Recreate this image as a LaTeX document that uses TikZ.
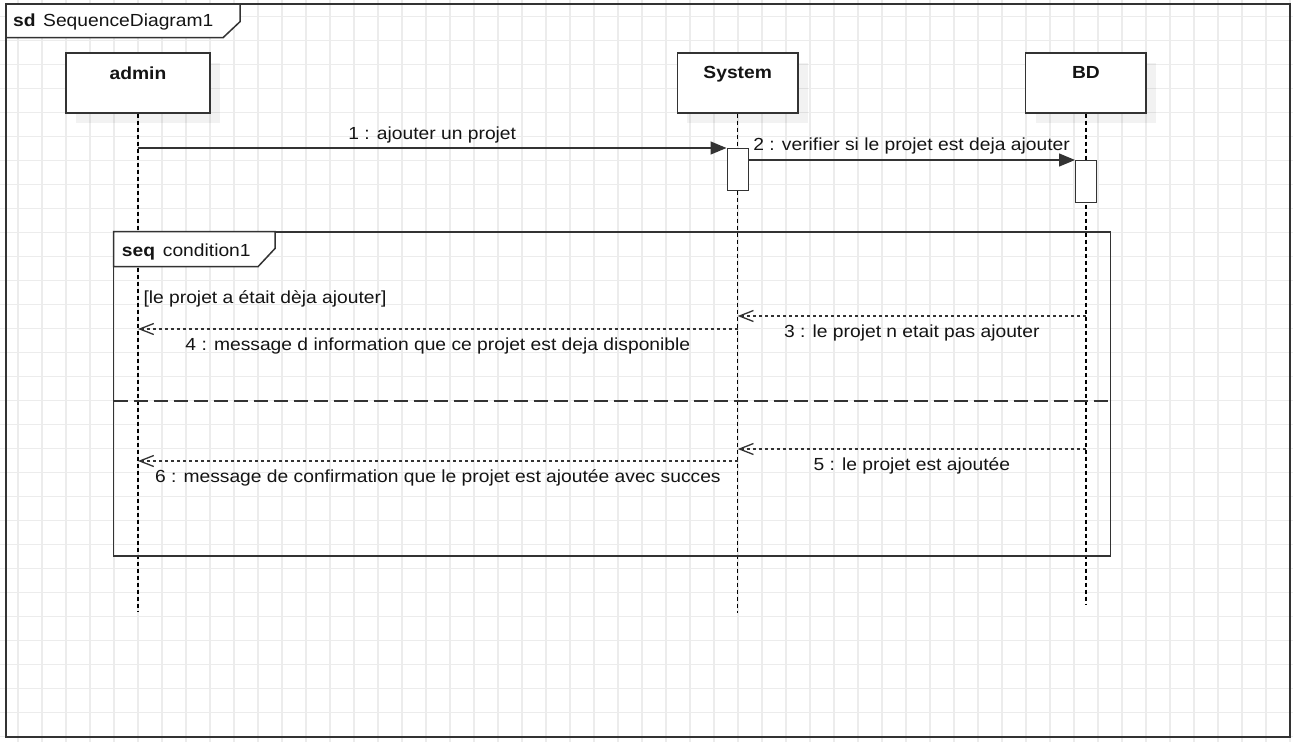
\documentclass[tikz,border=0pt]{standalone}
\usepackage{fontspec}
\setmainfont{Liberation Sans}[FakeStretch=1.10]
\usetikzlibrary{arrows.meta,calc,shadows}
\definecolor{lc}{RGB}{51,51,51}
\definecolor{gridc}{RGB}{236,236,236}
\definecolor{txt}{RGB}{20,20,20}
\tikzset{
  lbl/.style={font=\fontsize{17.5}{20}\selectfont, text=txt, inner sep=0pt},
  bold/.style={font=\fontsize{17.5}{20}\selectfont\bfseries, text=txt, inner sep=0pt},
  actorbox/.style={draw=lc, line width=1.5pt, fill=white, minimum height=60pt, anchor=north, inner sep=0pt,
    drop shadow={shadow xshift=10pt, shadow yshift=-10pt, opacity=0.05, fill=black}},
  actbox/.style={draw=lc, line width=1.4pt, fill=white, minimum width=21pt, minimum height=42pt, anchor=north, inner sep=0pt},
  lifeline/.style={draw=black, line width=1.3pt, dash pattern=on 4pt off 3pt},
  syncmsg/.style={draw=lc, line width=1.3pt, -{Triangle[length=16pt,width=13pt]}},
  retmsg/.style={draw=lc, line width=1.2pt, dash pattern=on 3pt off 3pt, -{Straight Barb[length=14pt,width=11pt,line width=1.3pt]}},
  framebox/.style={draw=lc, line width=2pt},
  tagbox/.style={draw=lc, line width=1.5pt, fill=white},
}
\begin{document}
\begin{tikzpicture}[x=1pt,y=-1pt]
\useasboundingbox (0,0) rectangle (1293,742);
\fill[white] (0,0) rectangle (1293,742);
% grid
\foreach \x in {18,42,...,1290} \draw[gridc, line width=1.3pt] (\x,0) -- (\x,742);
\foreach \y in {16.5,40.5,...,736.5} \draw[gridc, line width=1.3pt] (0,\y) -- (1293,\y);

% outer frame
\draw[framebox] (6,4) rectangle (1290,736.5);
\draw[tagbox] (6,4) -- (240,4) -- (240,21.7) -- (223,37.7) -- (6,37.7) -- cycle;
\node[bold, anchor=base west] (sdk) at (13,26.7) {sd};
\node[lbl, anchor=base west] (sdn) at (43,26.7) {SequenceDiagram1};

% actors
\node[actorbox, minimum width=144pt] (admin) at (138,52) {};
\node[actorbox, minimum width=120.5pt] (system) at (737.7,52) {};
\node[actorbox, minimum width=120.5pt] (bd) at (1085.9,52) {};
\node[bold, anchor=base] (admint) at ($(admin.north)+(0,27)$) {admin};
\node[bold, anchor=base] (systemt) at ($(system.north)+(0,26)$) {System};
\node[bold, anchor=base] (bdt) at ($(bd.north)+(0,26.7)$) {BD};

% lifeline ends
\coordinate (adminE) at (138,612);
\coordinate (systemE) at (737.7,613);
\coordinate (bdE) at (1085.9,605);
\draw[lifeline] (admin.south) -- (adminE);
\draw[lifeline] (system.south) -- (systemE);
\draw[lifeline] (bd.south) -- (bdE);

% activations
\node[actbox] (act1) at (737.7,148) {};
\node[actbox] (act2) at (1086.2,160) {};

% seq fragment
\draw[framebox, line width=1.8pt] (113.5,231.7) rectangle (1110.5,556);
\draw[tagbox] (113.5,231.7) -- (275,231.7) -- (275,248.5) -- (258,266.7) -- (113.5,266.7) -- cycle;
\node[bold, anchor=base west] (seqk) at (121.7,256.7) {seq};
\node[lbl, anchor=base west] (seqn) at (162.7,256.7) {condition1};
\coordinate (sepL) at (113.5,400.7);
\coordinate (sepR) at (1110.5,400.7);
\draw[draw=lc, line width=1.8pt, dash pattern=on 14pt off 6pt] (sepL) -- (sepR);
\node[lbl, anchor=base west] (guard) at (143.3,303) {[le projet a était dèja ajouter]};

% message points
\coordinate (m1s) at (138,148);
\coordinate (m2s) at (748.2,160);
\coordinate (m3s) at (1085.9,316);
\coordinate (m3e) at (737.7,316);
\coordinate (m4s) at (737.7,329);
\coordinate (m4e) at (138,329);
\coordinate (m5s) at (1085.9,449);
\coordinate (m5e) at (737.7,449);
\coordinate (m6s) at (737.7,461);
\coordinate (m6e) at (138,461);

\draw[syncmsg] (m1s) -- (act1.north west) node[lbl, midway, anchor=base, yshift=9pt] {1 : ajouter un projet};
\draw[syncmsg] (m2s) -- (act2.north west) node[lbl, midway, anchor=base, yshift=9.3pt] {2 : verifier si le projet est deja ajouter};
\draw[retmsg] (m3s) -- (m3e) node[lbl, midway, anchor=base, yshift=-21.5pt] {3 : le projet n etait pas ajouter};
\draw[retmsg] (m4s) -- (m4e) node[lbl, midway, anchor=base, yshift=-21pt] {4 : message d information que ce projet est deja disponible};
\draw[retmsg] (m5s) -- (m5e) node[lbl, midway, anchor=base, yshift=-21pt] {5 : le projet est ajoutée};
\draw[retmsg] (m6s) -- (m6e) node[lbl, midway, anchor=base, yshift=-21pt] {6 : message de confirmation que le projet est ajoutée avec succes};
\end{tikzpicture}
\end{document}
